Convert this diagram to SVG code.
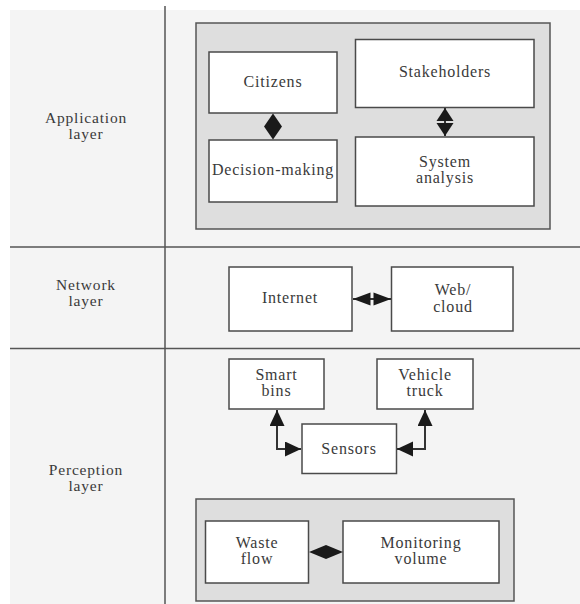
<svg xmlns="http://www.w3.org/2000/svg" width="580" height="604" viewBox="0 0 580 604">
<style>
.lbl{font-family:"Liberation Serif","Times New Roman",serif;font-size:15.5px;letter-spacing:0.8px;fill:#3a3a3a;text-anchor:middle}
.txt{font-family:"Liberation Serif","Times New Roman",serif;font-size:16px;letter-spacing:0.8px;fill:#3a3a3a;text-anchor:middle}
.box{fill:#ffffff;stroke:#4a4a4a;stroke-width:1.5}
.grp{fill:#dedede;stroke:#555555;stroke-width:1.5}
.div{stroke:#555555;stroke-width:1.5;fill:none}
.con{stroke:#333333;stroke-width:2;fill:none}
.head{fill:#1a1a1a;stroke:none}
</style>
<defs>
<marker id="arr" markerUnits="userSpaceOnUse" markerWidth="18" markerHeight="16" refX="16" refY="7.5" orient="auto-start-reverse" viewBox="0 0 18 16">
<path d="M0,0 L16,7.5 L0,15 z" fill="#1a1a1a"/>
</marker>
</defs>
<rect x="0" y="0" width="580" height="604" fill="#ffffff"/>
<rect x="10" y="10" width="570" height="594" fill="#f4f4f4"/>
<g id="layers">
<line class="div" x1="165" y1="6" x2="165" y2="604"/>
<line class="div" x1="10" y1="247" x2="580" y2="247"/>
<line class="div" x1="10" y1="348.5" x2="580" y2="348.5"/>
<text class="lbl" x="86" y="123">Application</text>
<text class="lbl" x="86" y="139">layer</text>
<text class="lbl" x="86" y="290">Network</text>
<text class="lbl" x="86" y="306">layer</text>
<text class="lbl" x="86" y="475">Perception</text>
<text class="lbl" x="86" y="491">layer</text>
</g>
<g id="application-group">
<rect class="grp" x="196" y="23" width="354" height="206"/>
</g>
<g id="perception-group">
<rect class="grp" x="196" y="499" width="318" height="102"/>
</g>
<g id="citizens">
<rect class="box" x="209" y="52" width="128" height="61"/>
<text class="txt" x="273" y="87">Citizens</text>
</g>
<g id="decision-making">
<rect class="box" x="209" y="140" width="128" height="62"/>
<text class="txt" x="273" y="175">Decision-making</text>
</g>
<g id="stakeholders">
<rect class="box" x="355.5" y="39.5" width="178.5" height="68"/>
<text class="txt" x="445" y="77">Stakeholders</text>
</g>
<g id="system-analysis">
<rect class="box" x="355.5" y="137" width="178.5" height="69"/>
<text class="txt" x="445" y="167">System</text>
<text class="txt" x="445" y="183">analysis</text>
</g>
<g id="internet">
<rect class="box" x="229" y="267" width="123" height="64"/>
<text class="txt" x="290" y="303">Internet</text>
</g>
<g id="web-cloud">
<rect class="box" x="391.5" y="267" width="121.5" height="64"/>
<text class="txt" x="453" y="295">Web/</text>
<text class="txt" x="453" y="312">cloud</text>
</g>
<g id="smart-bins">
<rect class="box" x="229" y="359" width="95" height="50"/>
<text class="txt" x="276.5" y="380">Smart</text>
<text class="txt" x="276.5" y="396">bins</text>
</g>
<g id="vehicle-truck">
<rect class="box" x="377" y="359" width="96" height="50"/>
<text class="txt" x="425" y="380">Vehicle</text>
<text class="txt" x="425" y="396">truck</text>
</g>
<g id="sensors">
<rect class="box" x="302" y="424" width="94.5" height="49.5"/>
<text class="txt" x="349" y="454">Sensors</text>
</g>
<g id="waste-flow">
<rect class="box" x="205.5" y="521" width="103" height="62"/>
<text class="txt" x="257" y="548">Waste</text>
<text class="txt" x="257" y="564">flow</text>
</g>
<g id="monitoring-volume">
<rect class="box" x="343" y="521" width="156" height="62"/>
<text class="txt" x="421" y="548">Monitoring</text>
<text class="txt" x="421" y="564">volume</text>
</g>
<g id="connectors">
<polygon class="head" points="273,113.5 282,126.5 273,139.5 264,126.5"/>
<line class="con" x1="445" y1="108" x2="445" y2="136"/>
<polygon class="head" points="445,108 453.5,121 436.5,121"/>
<polygon class="head" points="445,136 453.5,123 436.5,123"/>
<line class="con" x1="353" y1="299" x2="391" y2="299"/>
<polygon class="head" points="353,299 370.5,292.5 370.5,305.5"/>
<polygon class="head" points="391,299 373.5,292.5 373.5,305.5"/>
<polygon class="head" points="309,552 326,545 343,552 326,559"/>
<path class="con" d="M277,410 V449 H301" marker-start="url(#arr)" marker-end="url(#arr)"/>
<path class="con" d="M425,410 V449 H397" marker-start="url(#arr)" marker-end="url(#arr)"/>
</g>
</svg>
